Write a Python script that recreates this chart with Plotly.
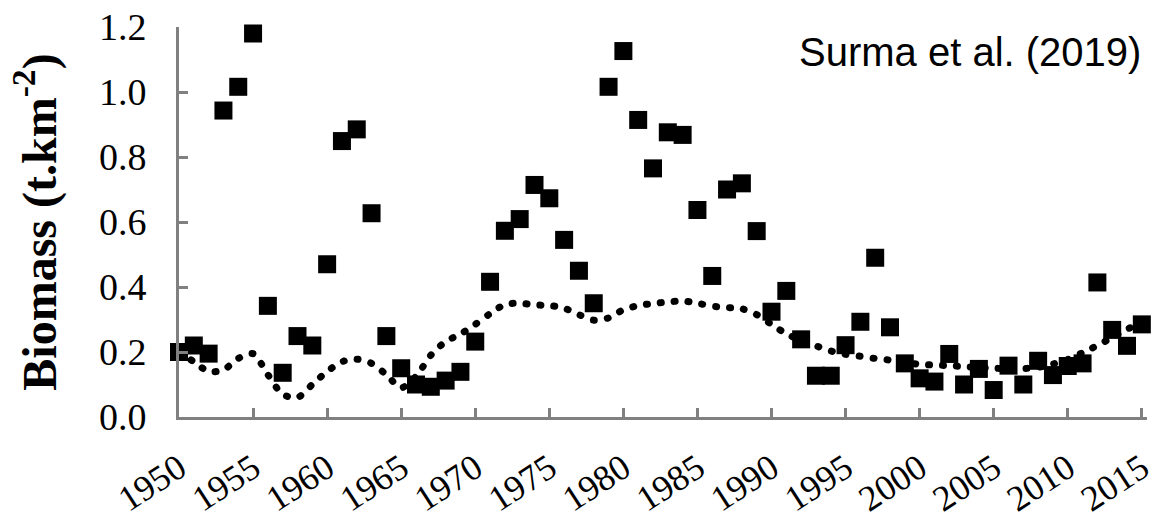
import plotly.graph_objects as go

years = list(range(1950, 2016))

biomass = [
    0.20, 0.22, 0.195, 0.943, 1.016, 1.18, 0.342, 0.136, 0.249, 0.22,
    0.47, 0.849, 0.885, 0.627, 0.249, 0.15, 0.10, 0.093, 0.112, 0.139,
    0.232, 0.416, 0.573, 0.609, 0.714, 0.673, 0.545, 0.45, 0.35, 1.016,
    1.126, 0.914, 0.765, 0.876, 0.868, 0.637, 0.434, 0.70, 0.719, 0.572,
    0.324, 0.388, 0.239, 0.127, 0.127, 0.221, 0.293, 0.49, 0.276, 0.165,
    0.119, 0.109, 0.194, 0.10, 0.148, 0.083, 0.158, 0.10, 0.173, 0.129,
    0.157, 0.165, 0.414, 0.268, 0.219, 0.285,
]

trend = [
    0.20, 0.17, 0.14, 0.145, 0.18, 0.195, 0.13, 0.07, 0.06, 0.10,
    0.14, 0.17, 0.178, 0.165, 0.13, 0.09, 0.125, 0.19, 0.232, 0.255,
    0.285, 0.318, 0.346, 0.35, 0.345, 0.343, 0.335, 0.315, 0.298, 0.305,
    0.33, 0.343, 0.349, 0.354, 0.357, 0.35, 0.341, 0.337, 0.333, 0.315,
    0.285, 0.256, 0.235, 0.219, 0.203, 0.193, 0.187, 0.18, 0.175, 0.168,
    0.162, 0.16, 0.158, 0.155, 0.152, 0.15, 0.149, 0.149, 0.153, 0.163,
    0.177, 0.198, 0.22, 0.245, 0.27, 0.29,
]

tick_years = list(range(1950, 2016, 5))
y_ticks = [0.0, 0.2, 0.4, 0.6, 0.8, 1.0, 1.2]

AXIS = "#808080"
SERIF = "Liberation Serif, Times New Roman, serif"

fig = go.Figure()
fig.add_trace(go.Scatter(
    x=years, y=trend, mode="lines",
    line=dict(color="black", width=7, dash="1px,13px", shape="spline", smoothing=0.8),
    cliponaxis=False, hoverinfo="skip", showlegend=False,
))
fig.add_trace(go.Scatter(
    x=years, y=biomass, mode="markers",
    marker=dict(symbol="square", size=18, color="black"),
    cliponaxis=False, showlegend=False,
))

fig.update_layout(
    width=1155, height=521,
    margin=dict(l=179, r=8, t=27, b=104),
    paper_bgcolor="white", plot_bgcolor="white",
    xaxis=dict(
        range=[1950, 2015.35], tickvals=tick_years, ticktext=[str(t) for t in tick_years],
        showgrid=False, zeroline=False,
        showline=True, linecolor=AXIS, linewidth=3,
        ticks="inside", ticklen=9, tickwidth=3, tickcolor=AXIS,
        tickangle=-33, tickfont=dict(family=SERIF, size=36, color="black"),
        ticklabelstandoff=13, ticklabeloverflow="allow", automargin=False,
    ),
    yaxis=dict(
        range=[0, 1.2], tickvals=y_ticks, ticktext=[f"{v:.1f}" for v in y_ticks],
        showgrid=False, zeroline=False,
        showline=True, linecolor=AXIS, linewidth=3,
        ticks="inside", ticklen=9, tickwidth=3, tickcolor=AXIS,
        tickfont=dict(family=SERIF, size=38, color="black"),
        ticklabelstandoff=22, automargin=False,
        title=dict(text="<b>Biomass (t.km<sup>-2</sup>)</b>",
                   font=dict(family=SERIF, size=48, color="black"), standoff=28),
    ),
    annotations=[dict(
        text="Surma et al. (2019)", xref="paper", yref="paper",
        x=0.996, y=0.936, xanchor="right", yanchor="middle", showarrow=False,
        font=dict(family="Liberation Sans, Arial, sans-serif", size=40, color="black"),
    )],
)

post = """
document.body.style.margin = '0px';
document.body.style.padding = '0px';
var gd = document.getElementById('{plot_id}');
function roundCaps(){
  var paths = gd.querySelectorAll('.scatterlayer .trace:first-child path.js-line');
  paths.forEach(function(p){ p.style.strokeLinecap = 'round'; });
}
roundCaps();
gd.on && gd.on('plotly_afterplot', roundCaps);
"""

fig.write_html("out.html", post_script=post, config={"displayModeBar": False})
